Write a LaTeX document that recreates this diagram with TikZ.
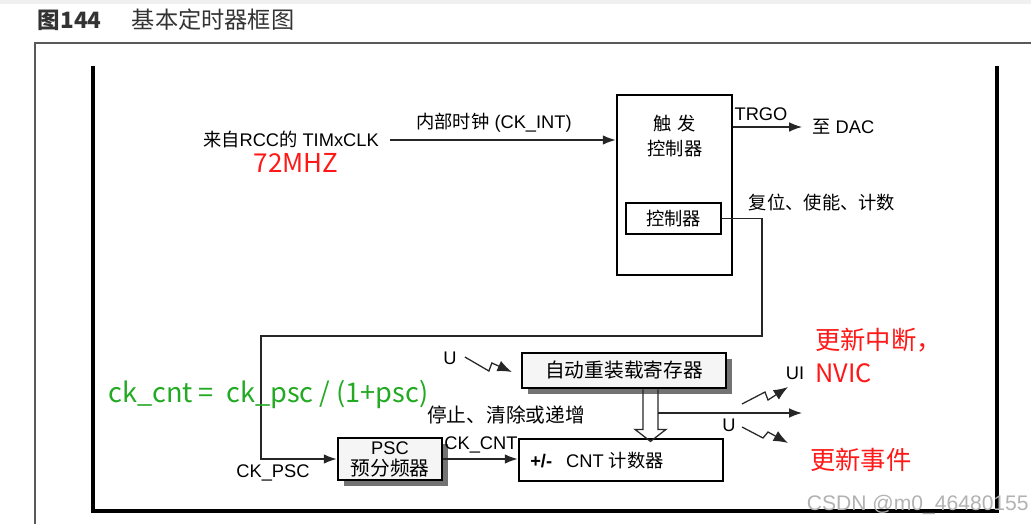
\documentclass[tikz,border=0pt]{standalone}
\usepackage{fontspec}
\setmainfont{Liberation Sans}
\newfontfamily\cjk{Noto Sans CJK SC}
\usetikzlibrary{arrows.meta,shadows,calc}
\definecolor{NoteRed}{RGB}{255,24,24}
\definecolor{NoteGreen}{RGB}{34,170,34}
\tikzset{
	>={Latex[length=3.2mm,width=2.4mm]},
	frame/.style={black, line width=2.4pt},
	outer/.style={black!65, line width=1.1pt},
	wire/.style={black!85, line width=0.9pt},
	blockbox/.style={draw=black, line width=2pt, inner sep=0pt},
	regbox/.style={blockbox, fill=black!4,
		drop shadow={shadow xshift=1.6mm, shadow yshift=-1.6mm, fill=black!55, opacity=1}},
	txt/.style={font=\fontsize{13}{15}\selectfont, inner sep=0pt},
	bigtxt/.style={font=\fontsize{14}{16}\selectfont, inner sep=0pt},
	note/.style={font=\cjk\fontsize{18}{20}\selectfont, inner sep=0pt},
	bolt/.style={wire, -{Latex[length=3.6mm,width=2.8mm]}},
}
\begin{document}
\begin{tikzpicture}[x=0.025cm, y=-0.025cm]
	\useasboundingbox (0,0) rectangle (1031,524);
	\fill[black!6] (0,0) rectangle (1031,4);
	
	% Title
	\node[anchor=west, text=black!80, font=\cjk\bfseries\fontsize{16}{18}\selectfont] (fignum) at (33,20) {图144};
	\node[anchor=west, text=black!80, font=\cjk\fontsize{16.5}{18}\selectfont] (figtitle) at (127,20) {基本定时器框图};
	
	% Frames
	\draw[outer] (35,524) -- (35,43) -- (1031,43);
	\draw[frame] (93,66) -- (93,511) -- (997,511) -- (997,66);
	
	% Trigger controller
	\node[blockbox, minimum width=2.875cm, minimum height=4.5cm] (trig) at (674.5,185) {};
	\node[txt] (trigA) at (675,124) {\cjk 触\hspace{0.3em}发};
	\node[txt] (trigB) at (675,149) {\cjk 控制器};
	\node[blockbox, txt, minimum width=2.375cm, minimum height=0.775cm] (ctrl) at (673.5,218.5) {\cjk 控制器};
	
	% Clock input
	\node[txt, anchor=east] (rcc) at (379,140) {{\cjk 来自}RCC{\cjk 的} TIMxCLK};
	\node[note, text=NoteRed, font=\cjk\fontsize{18.5}{20}\selectfont] (mhz) at (296,163) {72MHZ};
	\coordinate (clkin) at (390,140);
	\draw[wire, ->] (clkin) -- (clkin -| trig.west);
	\node[txt] (ckint) at (494,123) {{\cjk 内部时钟} (CK\_INT)};
	
	% TRGO
	\coordinate (dac) at (802,127);
	\draw[wire, ->] (trig.east |- dac) -- (dac);
	\node[txt] (trgo) at (761,114) {TRGO};
	\node[txt, anchor=west] (todac) at (812,127) {{\cjk 至} DAC};
	\node[txt] (rst) at (822,203) {\cjk 复位、使能、计数};
	
	% Prescaler
	\node[regbox, minimum width=2.6cm, minimum height=1.05cm] (psc) at (390,459) {};
	\node[txt] (pscA) at (390,448) {PSC};
	\node[bigtxt] (pscB) at (390,468) {\cjk 预分频器};
	
	\coordinate (loopA) at (762,218.5);
	\coordinate (loopB) at (762,336);
	\coordinate (loopC) at (261,336);
	\draw[wire, ->] (ctrl.east) -- (loopA) -- (loopB) -- (loopC) |- (psc.west);
	\node[txt] (ckpsc) at (273,473) {CK\_PSC};
	
	% Auto-reload register
	\node[regbox, bigtxt, minimum width=5.1cm, minimum height=0.875cm] (arr) at (624,370.5) {\cjk 自动重装载寄存器};
	\node[txt] (uarr) at (450,358) {U};
	\draw[bolt] ($(uarr.east)+(8,-1)$) -- ++(24,14) -- ++(3,-8) -- ++(20,9);
	\node[bigtxt] (stop) at (506,415) {\cjk 停止、清除或递增};
	
	% Counter
	\node[blockbox, minimum width=5.1cm, minimum height=1.05cm] (cnt) at (621,460) {};
	\node[txt, anchor=west] (cntlbl) at (530,461) {\bfseries +/-\hspace{10pt}\mdseries CNT {\cjk 计数器}};
	\draw[wire, ->] (psc.east) -- (psc.east -| cnt.west);
	\node[txt] (ckcnt) at (481,445) {CK\_CNT};
	
	% Reload transfer (hollow arrow)
	\draw[wire] ($(arr.south)+(19,0)$) -- ++(0,40) -- ++(-8,0) -- ++(15.5,12)
	-- ++(15.5,-12) -- ++(-8,0) -- ++(0,-40);
	
	% Update outputs
	\coordinate (tap) at (658,413);
	\coordinate (uiout) at (802,413);
	\draw[wire, ->] (tap) -- (uiout);
	\node[txt] (ui) at (795,373) {UI};
	\draw[bolt] (742,404) -- ++(23,-12) -- ++(3,8) -- ++(20,-13);
	\node[txt] (uevt) at (729,425) {U};
	\draw[bolt] (742,427) -- ++(21,11) -- ++(5,-6) -- ++(20,11);
	
	% Notes
	\node[note, text=NoteGreen, anchor=west, font=\cjk\fontsize{19.3}{21}\selectfont] (formula) at (108,395) {ck\_cnt =\ \ ck\_psc / (1+psc)};
	\node[note, text=NoteRed, anchor=west] (nint) at (815,340) {更新中断，};
	\node[note, text=NoteRed, anchor=west] (nvic) at (815,373) {NVIC};
	\node[note, text=NoteRed, anchor=west] (nevt) at (810,460) {更新事件};
	\node[anchor=east, text=black!30, font=\fontsize{15}{17}\selectfont, inner sep=0pt] (wm) at (1029,505) {CSDN @m0\_46480155};
\end{tikzpicture}
\end{document}
